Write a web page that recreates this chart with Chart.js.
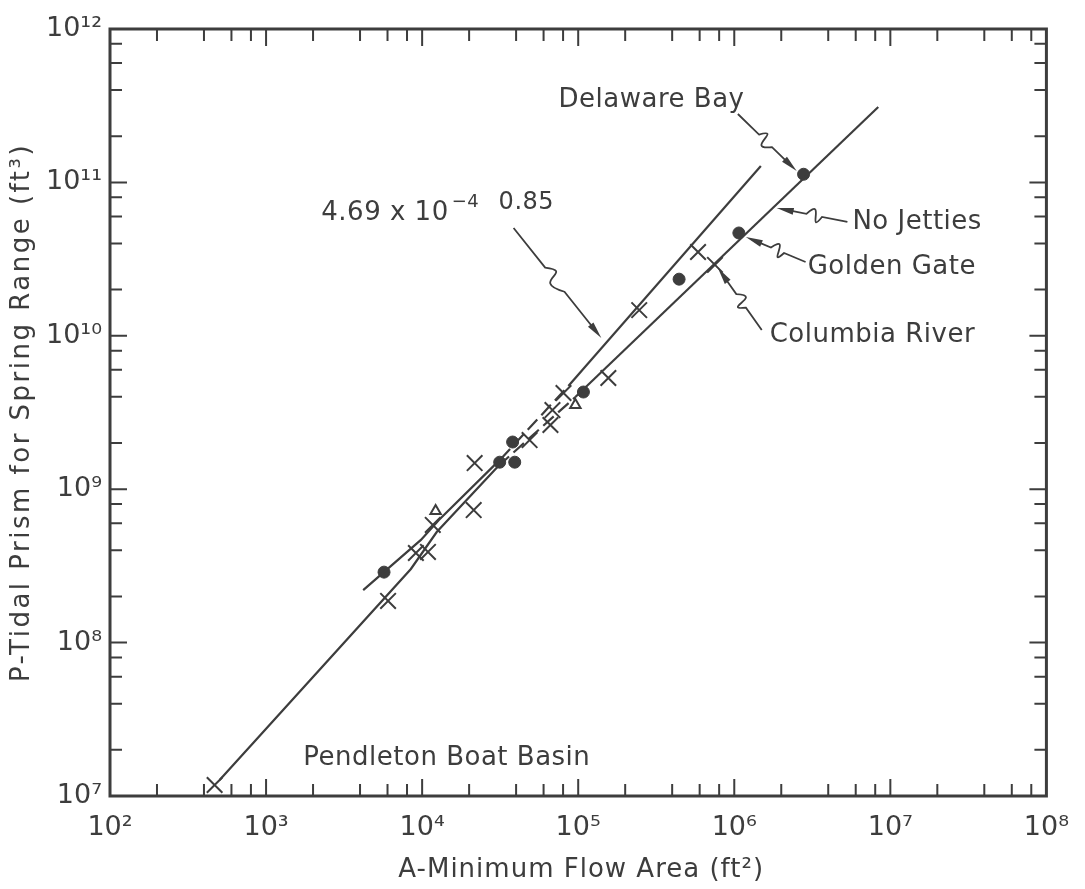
<!DOCTYPE html>
<html>
<head>
<meta charset="utf-8">
<script src="https://cdn.jsdelivr.net/npm/chart.js@4.4.1/dist/chart.umd.min.js"></script>
<style>
html,body{margin:0;padding:0;background:#fff;}
#c{display:block;}
</style>
</head>
<body>
<canvas id="c" width="1085" height="889"></canvas>
<script>
// ---------- data (A = minimum flow area ft², P = tidal prism ft³) ----------
const xTickValues = [1e2, 1e3, 1e4, 1e5, 1e6, 1e7, 1e8];
const xTickLabels = ['10²', '10³', '10⁴', '10⁵', '10⁶', '10⁷', '10⁸'];
const yTickValues = [1e7, 1e8, 1e9, 1e10, 1e11, 1e12];
const yTickLabels = ['10⁷', '10⁸', '10⁹', '10¹⁰', '10¹¹', '10¹²'];

const dotArea  = [5.70e3, 3.14e4, 3.92e4, 3.80e4, 1.08e5, 4.43e5, 1.07e6, 2.78e6];
const dotPrism = [2.88e8, 1.50e9, 1.50e9, 2.03e9, 4.30e9, 2.34e10, 4.68e10, 1.13e11];

const crossArea  = [468, 6.05e3, 9.12e3, 1.09e4, 1.17e4, 2.14e4, 2.17e4, 4.88e4, 6.64e4, 6.84e4, 8.05e4, 1.56e5, 2.46e5, 5.86e5, 7.52e5];
const crossPrism = [1.18e7, 1.87e8, 3.84e8, 3.90e8, 5.85e8, 7.31e8, 1.48e9, 2.09e9, 2.62e9, 3.28e9, 4.24e9, 5.31e9, 1.47e10, 3.52e10, 2.90e10];

const triArea  = [1.22e4, 9.59e4];
const triPrism = [7.21e8, 3.54e9];

const noJettiesLineArea  = [504, 8.47e3, 1.24e4, 3.09e4, 9.59e4, 8.37e6];
const noJettiesLinePrism = [1.27e7, 3.02e8, 5.26e8, 1.42e9, 3.99e9, 3.10e11];
const jettyLineArea  = [4.19e3, 9.82e3, 1.28e4, 3.18e4, 8.65e4, 1.48e6];
const jettyLinePrism = [2.20e8, 4.67e8, 6.30e8, 1.57e9, 4.71e9, 1.28e11];

// annotation labels (positions in log10 units)
const noteText = ['Delaware Bay', 'No Jetties', 'Golden Gate', 'Columbia River', 'Pendleton Boat Basin'];
const noteLogA = [4.874, 6.757, 6.470, 6.227, 3.239];
const noteLogP = [11.537, 10.742, 10.449, 10.005, 7.248];

// squiggle arrows: start -> tip (log10 units)
const arrowStartLogA = [6.023, 6.725, 6.457, 6.176, 4.586];
const arrowStartLogP = [11.446, 10.742, 10.481, 10.038, 10.703];
const arrowTipLogA   = [6.400, 6.272, 6.074, 5.895, 5.148];
const arrowTipLogP   = [11.074, 10.833, 10.644, 10.442, 9.986];

const xTitle = 'A-Minimum Flow Area (ft²)';
const yTitle = 'P-Tidal Prism for Spring Range (ft³)';

// ---------- drawing ----------
const INK = '#3d3d3d';
const FONT = 'DejaVu Sans';
const pts = (xs, ys) => xs.map((x, i) => ({ x: x, y: ys[i] }));

function squiggleArrow(ctx, x0, y0, x1, y1) {
  const dx = x1 - x0, dy = y1 - y0, len = Math.hypot(dx, dy);
  const ux = dx / len, uy = dy / len, nx = -uy, ny = ux;
  const P = (t, o) => [x0 + dx * t + nx * o, y0 + dy * t + ny * o];
  ctx.beginPath();
  ctx.moveTo(x0, y0);
  ctx.lineTo(...P(0.36, 0));
  ctx.bezierCurveTo(...P(0.52, -22), ...P(0.36, 22), ...P(0.58, 0));
  ctx.lineTo(...P(1 - 14 / len, 0));
  ctx.stroke();
  // arrow head
  const bx = x1 - ux * 17, by = y1 - uy * 17;
  ctx.beginPath();
  ctx.moveTo(x1, y1);
  ctx.lineTo(bx + nx * 3.5, by + ny * 3.5);
  ctx.lineTo(bx - nx * 3.5, by - ny * 3.5);
  ctx.closePath();
  ctx.fill();
}

const decor = {
  id: 'decor',
  afterDraw(chart) {
    const ctx = chart.ctx, a = chart.chartArea;
    const xs = chart.scales.x, ys = chart.scales.y;
    const L2P = (la, lp) => [xs.getPixelForValue(Math.pow(10, la)), ys.getPixelForValue(Math.pow(10, lp))];
    ctx.save();
    ctx.strokeStyle = INK; ctx.fillStyle = INK;
    // frame
    ctx.lineWidth = 3;
    ctx.strokeRect(a.left, a.top, a.right - a.left, a.bottom - a.top);
    // inward tick marks on all sides
    ctx.lineWidth = 2;
    const mults = [1, 2, 4, 6, 8];
    ctx.beginPath();
    for (let e = 2; e <= 7; e++) for (const m of mults) {
      if (e === 2 && m === 1) continue;
      const p = xs.getPixelForValue(m * Math.pow(10, e));
      const L = m === 1 ? 17 : 12;
      ctx.moveTo(p, a.bottom); ctx.lineTo(p, a.bottom - L);
      ctx.moveTo(p, a.top); ctx.lineTo(p, a.top + L);
    }
    for (let e = 7; e <= 11; e++) for (const m of mults) {
      if (e === 7 && m === 1) continue;
      const p = ys.getPixelForValue(m * Math.pow(10, e));
      const L = m === 1 ? 17 : 12;
      ctx.moveTo(a.left, p); ctx.lineTo(a.left + L, p);
      ctx.moveTo(a.right, p); ctx.lineTo(a.right - L, p);
    }
    ctx.stroke();
    // arrows
    ctx.lineWidth = 1.8;
    for (let i = 0; i < arrowStartLogA.length; i++) {
      const s = L2P(arrowStartLogA[i], arrowStartLogP[i]);
      const t = L2P(arrowTipLogA[i], arrowTipLogP[i]);
      squiggleArrow(ctx, s[0], s[1], t[0], t[1]);
    }
    // labels
    ctx.textBaseline = 'middle'; ctx.textAlign = 'left';
    ctx.font = '26px "' + FONT + '"';
    ctx.letterSpacing = '0.5px';
    for (let i = 0; i < noteText.length; i++) {
      const p = L2P(noteLogA[i], noteLogP[i]);
      ctx.fillText(noteText[i], p[0], p[1]);
    }
    // formula label
    let p = L2P(3.354, 10.800);
    ctx.fillText('4.69 x 10', p[0], p[1]);
    const w = ctx.measureText('4.69 x 10').width;
    ctx.font = '18px "' + FONT + '"';
    ctx.fillText('−4', p[0] + w + 3, p[1] - 11);
    ctx.font = '24px "' + FONT + '"';
    p = L2P(4.490, 10.866);
    ctx.fillText('0.85', p[0], p[1]);
    // axis titles
    ctx.font = '26px "' + FONT + '"';
    ctx.textAlign = 'center';
    ctx.letterSpacing = '1px';
    ctx.fillText(xTitle, (a.left + a.right) / 2 + 3, a.bottom + 74);
    ctx.save();
    ctx.translate(22, (a.top + a.bottom) / 2);
    ctx.rotate(-Math.PI / 2);
    ctx.letterSpacing = '2.5px';
    ctx.fillText(yTitle, 0, 0);
    ctx.restore();
    ctx.restore();
  }
};

const lineDash = c => (c.p0DataIndex === 3 ? [14, 6] : undefined);

new Chart(document.getElementById('c'), {
  type: 'scatter',
  data: {
    datasets: [
      { label: 'No Jetties', data: pts(noJettiesLineArea, noJettiesLinePrism), showLine: true,
        borderColor: INK, borderWidth: 2.2, pointRadius: 0, fill: false, segment: { borderDash: lineDash } },
      { label: '4.69x10^-4 A^0.85', data: pts(jettyLineArea, jettyLinePrism), showLine: true,
        borderColor: INK, borderWidth: 2.2, pointRadius: 0, fill: false, segment: { borderDash: lineDash } },
      { label: 'Inlets (dots)', data: pts(dotArea, dotPrism), pointStyle: 'circle', pointRadius: 6,
        backgroundColor: INK, borderColor: INK, borderWidth: 1 },
      { label: 'Inlets (x)', data: pts(crossArea, crossPrism), pointStyle: 'crossRot', pointRadius: 11,
        borderColor: INK, borderWidth: 2 },
      { label: 'Inlets (triangles)', data: pts(triArea, triPrism), pointStyle: 'triangle', pointRadius: 6,
        backgroundColor: 'rgba(0,0,0,0)', borderColor: INK, borderWidth: 2 }
    ]
  },
  options: {
    responsive: false,
    animation: false,
    layout: { padding: { top: 29, right: 37, left: 0, bottom: 0 } },
    plugins: { legend: { display: false }, tooltip: { enabled: false } },
    scales: {
      x: {
        type: 'logarithmic', min: 1e2, max: 1e8, position: 'bottom',
        grid: { display: false, drawTicks: false }, border: { display: false },
        afterBuildTicks: s => { s.ticks = xTickValues.map(v => ({ value: v, major: true })); },
        afterFit: s => { s.height = 93; },
        ticks: {
          autoSkip: false, maxRotation: 0, minRotation: 0, padding: 16, color: INK,
          font: { family: FONT, size: 27 },
          callback: v => xTickLabels[Math.round(Math.log10(v)) - 2]
        }
      },
      y: {
        type: 'logarithmic', min: 1e7, max: 1e12, position: 'left',
        grid: { display: false, drawTicks: false }, border: { display: false },
        afterBuildTicks: s => { s.ticks = yTickValues.map(v => ({ value: v, major: true })); },
        afterFit: s => { s.width = 110; },
        ticks: {
          autoSkip: false, padding: 8, color: INK,
          font: { family: FONT, size: 27 },
          callback: v => yTickLabels[Math.round(Math.log10(v)) - 7]
        }
      }
    }
  },
  plugins: [decor]
});
</script>
</body>
</html>
